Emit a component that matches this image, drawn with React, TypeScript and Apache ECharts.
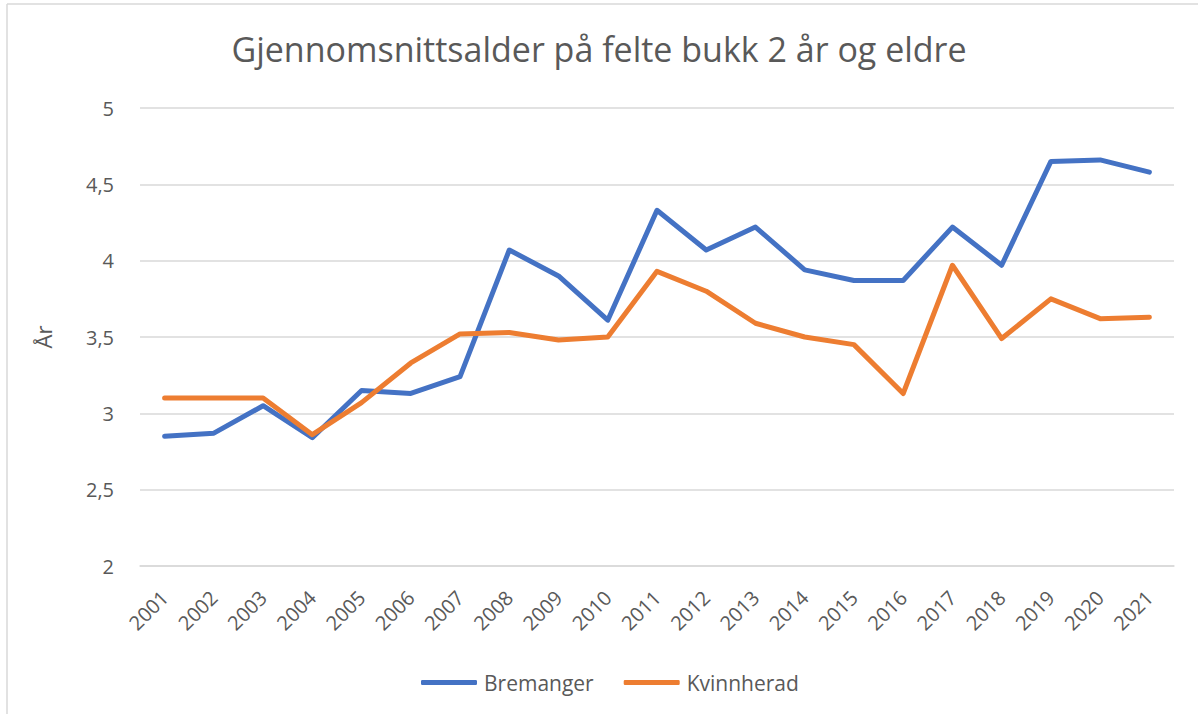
import React, { useEffect, useRef } from "react";
import * as echarts from "echarts";

const years = ["2001","2002","2003","2004","2005","2006","2007","2008","2009","2010","2011","2012","2013","2014","2015","2016","2017","2018","2019","2020","2021"];
const bremanger = [2.85, 2.87, 3.05, 2.84, 3.15, 3.13, 3.24, 4.07, 3.9, 3.61, 4.33, 4.07, 4.22, 3.94, 3.87, 3.87, 4.22, 3.97, 4.65, 4.66, 4.58];
const kvinnherad = [3.1, 3.1, 3.1, 2.86, 3.07, 3.33, 3.52, 3.53, 3.48, 3.5, 3.93, 3.8, 3.59, 3.5, 3.45, 3.13, 3.97, 3.49, 3.75, 3.62, 3.63];
const title = "Gjennomsnittsalder på felte bukk 2 år og eldre";
const yName = "År";

const FONT = "'Open Sans', 'Noto Sans', sans-serif";
const TXT = "#595959";
const GRID = "#d9d9d9";

export default function App() {
  const ref = useRef<HTMLDivElement>(null);
  useEffect(() => {
    document.body.style.margin = "0";
    const chart = echarts.init(ref.current!, null, { renderer: "svg" });
    chart.setOption({
      animation: false,
      backgroundColor: "#ffffff",
      title: {
        text: title,
        left: "center",
        top: 27,
        textStyle: { fontFamily: FONT, fontSize: 34, fontWeight: "normal", color: TXT },
      },
      graphic: [
        { type: "line", shape: { x1: 7, y1: 4, x2: 1198, y2: 4 }, style: { stroke: GRID, lineWidth: 1.5 } },
        { type: "line", shape: { x1: 7, y1: 4, x2: 7, y2: 714 }, style: { stroke: GRID, lineWidth: 1.5 } },
      ],
      legend: {
        bottom: 16,
        left: 416,
        itemWidth: 56,
        itemHeight: 5,
        itemGap: 30,
        icon: "roundRect",
        textStyle: { fontFamily: FONT, fontSize: 21, color: TXT, padding: [0, 0, 0, 2] },
        data: ["Bremanger", "Kvinnherad"],
      },
      grid: { left: 140, right: 24, top: 108, bottom: 148, containLabel: false },
      xAxis: {
        type: "category",
        data: years,
        boundaryGap: true,
        axisLine: { show: true, lineStyle: { color: GRID, width: 1.5 } },
        axisTick: { show: false },
        axisLabel: { rotate: 45, fontFamily: FONT, fontSize: 20, color: TXT, margin: 28 },
      },
      yAxis: {
        type: "value",
        min: 2,
        max: 5,
        interval: 0.5,
        name: yName,
        nameLocation: "middle",
        nameGap: 86,
        nameRotate: 90,
        nameTextStyle: { fontFamily: FONT, fontSize: 22, color: TXT },
        axisLine: { show: false },
        axisTick: { show: false },
        splitLine: { lineStyle: { color: GRID, width: 1.5 } },
        axisLabel: {
          fontFamily: FONT,
          fontSize: 20,
          color: TXT,
          margin: 26,
          formatter: (v: number) => String(v).replace(".", ","),
        },
      },
      series: [
        {
          name: "Bremanger",
          type: "line",
          data: bremanger,
          showSymbol: false,
          symbol: "none",
          itemStyle: { color: "#4472C4" },
          lineStyle: { color: "#4472C4", width: 5, cap: "round", join: "round" },
        },
        {
          name: "Kvinnherad",
          type: "line",
          data: kvinnherad,
          showSymbol: false,
          symbol: "none",
          itemStyle: { color: "#ED7D31" },
          lineStyle: { color: "#ED7D31", width: 5, cap: "round", join: "round" },
        },
      ],
    });
    return () => chart.dispose();
  }, []);
  return <div ref={ref} style={{ width: 1198, height: 714, position: "absolute", left: 0, top: 0 }} />;
}
